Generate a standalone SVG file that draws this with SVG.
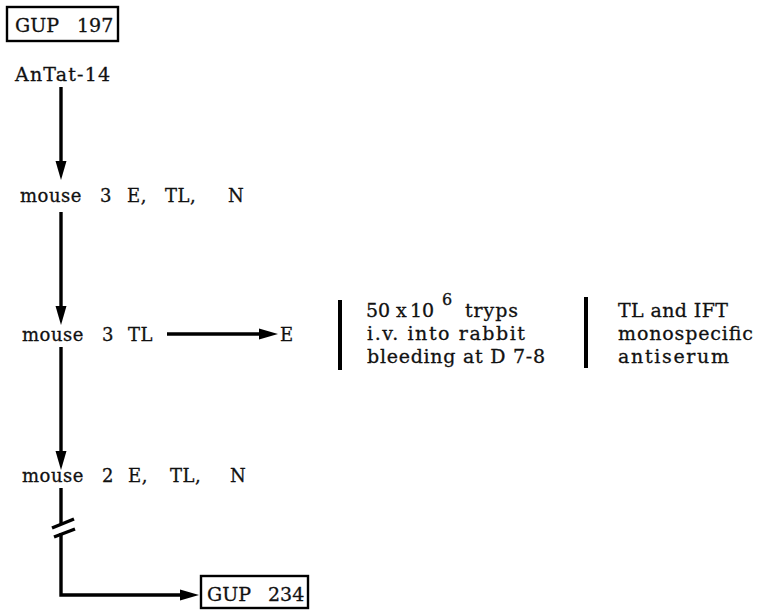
<svg xmlns="http://www.w3.org/2000/svg" width="761" height="610" viewBox="0 0 761 610">
<style>
text{font-family:"DejaVu Serif","Liberation Serif",serif;fill:#111;stroke:#111;stroke-width:0.3;}
.big{font-size:19px;}
.mid{font-size:18px;letter-spacing:0.5px;}
.line{stroke:#000;stroke-width:3.4;fill:none;}
.bar{stroke:#000;stroke-width:4;fill:none;}
.box{stroke:#000;stroke-width:2.4;fill:#fff;}
</style>
<defs>
<marker id="ah" markerUnits="userSpaceOnUse" markerWidth="19" markerHeight="12" refX="10" refY="6" orient="auto">
<path d="M0,0.5 L19,6 L0,11.5 z" fill="#000"/>
</marker>
</defs>
<g id="gup197">
<rect class="box" x="7" y="7" width="111" height="34"/>
<text class="big" y="32"><tspan x="15">GUP</tspan><tspan x="77">197</tspan></text>
</g>
<g id="antat14">
<text class="big" x="15" y="81" textLength="95" lengthAdjust="spacing">AnTat-14</text>
</g>
<g id="mouse3a">
<text class="mid" y="202"><tspan x="20">mouse</tspan><tspan x="100">3</tspan><tspan x="127">E,</tspan><tspan x="165">TL,</tspan><tspan x="228">N</tspan></text>
</g>
<g id="mouse3b">
<text class="mid" y="341"><tspan x="22">mouse</tspan><tspan x="102">3</tspan><tspan x="128">TL</tspan></text>
</g>
<g id="e">
<text class="mid" x="280" y="341">E</text>
</g>
<g id="rabbit">
<line class="bar" x1="340" y1="300" x2="340" y2="370"/>
<text class="big" y="317"><tspan x="366">50</tspan><tspan x="396">x</tspan><tspan x="410">10</tspan></text>
<text x="442" y="305" font-size="16">6</text>
<text class="big" x="465" y="317" textLength="53" lengthAdjust="spacing">tryps</text>
<text class="big" x="367" y="340" textLength="158" lengthAdjust="spacing">i.v.  into rabbit</text>
<text class="big" x="367" y="363" textLength="178" lengthAdjust="spacing">bleeding at D 7-8</text>
</g>
<g id="antiserum">
<line class="bar" x1="586" y1="297" x2="586" y2="368"/>
<text class="big" x="618" y="317" textLength="110" lengthAdjust="spacing">TL and IFT</text>
<text class="big" x="618" y="340" textLength="135" lengthAdjust="spacing">monospecific</text>
<text class="big" x="618" y="363" textLength="111" lengthAdjust="spacing">antiserum</text>
</g>
<g id="mouse2">
<text class="mid" y="482"><tspan x="22">mouse</tspan><tspan x="102">2</tspan><tspan x="128">E,</tspan><tspan x="170">TL,</tspan><tspan x="230">N</tspan></text>
</g>
<g id="gup234">
<rect class="box" x="201" y="576" width="107" height="32"/>
<text class="big" y="601"><tspan x="207">GUP</tspan><tspan x="268">234</tspan></text>
</g>
<g id="connectors">
<line class="line" x1="61" y1="87" x2="61" y2="171" marker-end="url(#ah)"/>
<line class="line" x1="61" y1="212" x2="61" y2="316" marker-end="url(#ah)"/>
<line class="line" x1="167" y1="334" x2="269" y2="334" marker-end="url(#ah)"/>
<line class="line" x1="61" y1="347" x2="61" y2="461" marker-end="url(#ah)"/>
<line class="line" x1="61" y1="488" x2="61" y2="524"/>
<line class="line" x1="52" y1="528" x2="74" y2="519"/>
<line class="line" x1="54" y1="537" x2="75" y2="529"/>
<polyline class="line" points="61,533 61,595 190,595" marker-end="url(#ah)"/>
</g>
</svg>
